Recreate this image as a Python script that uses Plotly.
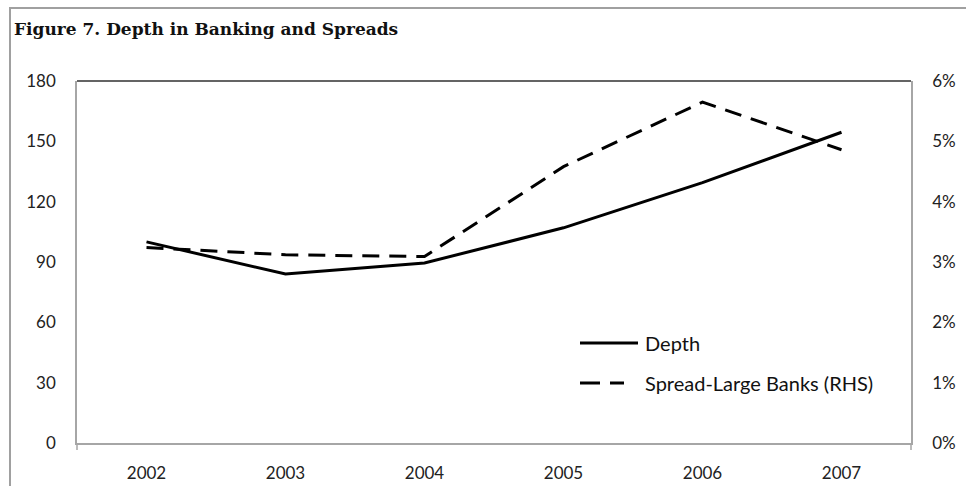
import plotly.graph_objects as go

years = ["2002", "2003", "2004", "2005", "2006", "2007"]
depth = [100, 84, 89.5, 107, 129.5, 154.5]
spread = [0.0324, 0.0312, 0.0309, 0.0458, 0.0565, 0.0486]
left_ticks = [0, 30, 60, 90, 120, 150, 180]
right_ticks = [0, 0.01, 0.02, 0.03, 0.04, 0.05, 0.06]

FONT = "Lato"
fig = go.Figure()
fig.add_trace(go.Scatter(x=years, y=depth, mode="lines", name="Depth",
                         line=dict(color="black", width=3), yaxis="y"))
fig.add_trace(go.Scatter(x=years, y=spread, mode="lines", name="Spread-Large Banks (RHS)",
                         line=dict(color="black", width=3, dash="17px,10px"), yaxis="y2"))

axis_gray = "#a6a6a6"
tick_font = dict(family=FONT, size=17, color="#222222")
fig.update_layout(
    width=966, height=486,
    margin=dict(l=77, r=55, t=81, b=43),
    paper_bgcolor="white", plot_bgcolor="white",
    showlegend=False,
    font=dict(family=FONT, size=17, color="#222222"),
    xaxis=dict(type="category", range=[-0.5, 5.5], showgrid=False, zeroline=False,
               showline=True, linecolor=axis_gray, linewidth=1.5, ticks="", automargin=False,
               ticklabelstandoff=14, tickfont=tick_font),
    yaxis=dict(range=[0, 180], tickvals=left_ticks, showgrid=False, zeroline=False,
               showline=True, linecolor=axis_gray, linewidth=1.5, ticks="", automargin=False,
               ticklabelstandoff=16, tickfont=tick_font),
    yaxis2=dict(range=[0, 0.06], tickvals=right_ticks, tickformat=".0%", overlaying="y",
                side="right", showgrid=False, zeroline=False, showline=True, automargin=False,
                linecolor=axis_gray, linewidth=1.5, ticks="", ticklabelstandoff=16,
                tickfont=tick_font),
)

H = 362.0
W = 834.0
def px(x):
    return (x - 77) / W
def py(y):
    return (443 - y) / H

shapes = [
    # outer border
    dict(type="rect", xref="paper", yref="paper", x0=px(10), x1=px(1000), y0=py(520), y1=py(8),
         line=dict(color="#a0a0a0", width=2), layer="below"),
    # top border of plot area
    dict(type="line", xref="paper", yref="paper", x0=0, x1=1, y0=1, y1=1,
         line=dict(color="#303030", width=1.5)),
    # boundary ticks below axis
    dict(type="line", xref="paper", yref="paper", x0=0, x1=0, y0=py(450), y1=0,
         line=dict(color=axis_gray, width=1.5)),
    dict(type="line", xref="paper", yref="paper", x0=1, x1=1, y0=py(450), y1=0,
         line=dict(color=axis_gray, width=1.5)),
    # legend samples
    dict(type="line", xref="paper", yref="paper", x0=px(580), x1=px(638),
         y0=py(343), y1=py(343), line=dict(color="black", width=3)),
    dict(type="line", xref="paper", yref="paper", x0=px(580), x1=px(624),
         y0=py(383), y1=py(383), line=dict(color="black", width=3, dash="20px,10px")),
]
fig.update_layout(shapes=shapes)

fig.add_annotation(text="Depth", xref="paper", yref="paper", x=px(643), y=py(343),
                   xanchor="left", yanchor="middle", showarrow=False,
                   font=dict(family=FONT, size=20, color="#111111"))
fig.add_annotation(text="Spread-Large Banks (RHS)", xref="paper", yref="paper",
                   x=px(643), y=py(383), xanchor="left", yanchor="middle",
                   showarrow=False, font=dict(family=FONT, size=20, color="#111111"))
fig.add_annotation(text="<b>Figure 7. Depth in Banking and Spreads</b>", xref="paper", yref="paper",
                   x=px(12), y=py(29), xanchor="left", yanchor="middle",
                   showarrow=False, font=dict(family="DejaVu Serif", size=17, color="#111111"))

fig.write_html("out.html", config={"displayModeBar": False},
               post_script="document.body.style.margin='0';document.body.style.overflow='hidden';")
